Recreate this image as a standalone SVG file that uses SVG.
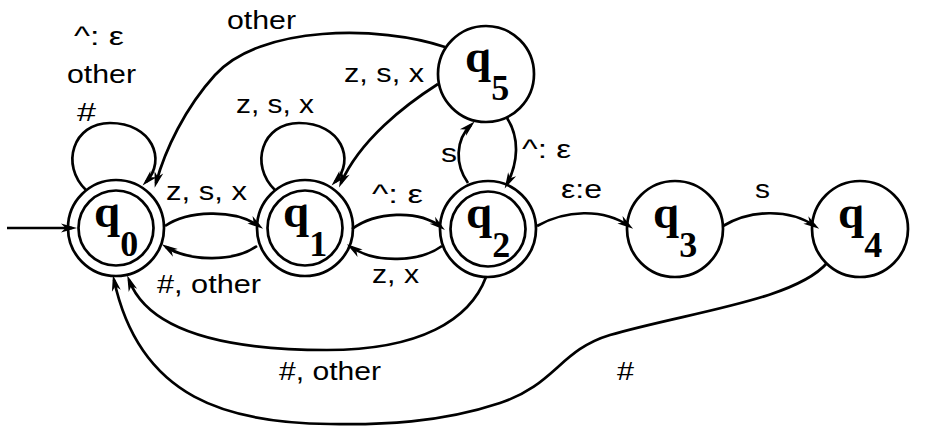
<svg xmlns="http://www.w3.org/2000/svg" width="934" height="436" viewBox="0 0 934 436">
<style>
.st{fill:none;stroke:#000;stroke-width:2.7}
.e{fill:none;stroke:#000;stroke-width:2.7;marker-end:url(#ah)}
.lb{font-family:"Liberation Sans",Arial,sans-serif;font-size:25px;fill:#000}
.q{font-family:"Liberation Serif","Times New Roman",serif;font-weight:bold;font-size:47px;fill:#000}
.sub{font-size:36px}
</style>
<defs>
<marker id="ah" markerUnits="userSpaceOnUse" markerWidth="17" markerHeight="10" refX="11" refY="5" orient="auto" overflow="visible">
<path d="M0,0.5 L16,5 L0,9.5 L4.5,5 Z" fill="#000"/>
</marker>
</defs>
<rect width="934" height="436" fill="#fff"/>
<g id="q0"><circle class="st" cx="116" cy="228" r="48"/><circle class="st" cx="116" cy="228" r="37.5"/><text class="q" x="94" y="227">q<tspan class="sub" y="256">0</tspan></text></g>
<g id="q1"><circle class="st" cx="305" cy="228" r="48"/><circle class="st" cx="305" cy="228" r="37.5"/><text class="q" x="283" y="227">q<tspan class="sub" y="256">1</tspan></text></g>
<g id="q2"><circle class="st" cx="488" cy="229" r="48"/><circle class="st" cx="488" cy="229" r="37.5"/><text class="q" x="466" y="228">q<tspan class="sub" y="257">2</tspan></text></g>
<g id="q3"><circle class="st" cx="675" cy="229" r="48"/><text class="q" x="653" y="228">q<tspan class="sub" y="257">3</tspan></text></g>
<g id="q4"><circle class="st" cx="860" cy="229" r="48"/><text class="q" x="838" y="228">q<tspan class="sub" y="257">4</tspan></text></g>
<g id="q5"><circle class="st" cx="486" cy="74" r="48"/><text class="q" x="465" y="72">q<tspan class="sub" y="100">5</tspan></text></g>
<g id="edges">
<path class="e" d="M7,228 L72,228"/>
<path class="e" d="M86,190 C60,165 73,123 110,123 C152,123 167,160 146,182"/>
<path class="e" d="M165,226 C187,211 233,208 259,226"/>
<path class="e" d="M257,246 C235,262 190,262 166,247"/>
<path class="e" d="M275,190 C249,165 262,123 299,123 C341,123 356,160 335,182"/>
<path class="e" d="M445,47 C380,25 260,25 215,75 C185,108 165,150 156,183"/>
<path class="e" d="M438,84 C405,105 360,140 341,183"/>
<path class="e" d="M352,229 C375,212 418,209 441,227"/>
<path class="e" d="M442,246 C420,262 376,264 351,247"/>
<path class="e" d="M468,183 C455,165 455,140 471,125"/>
<path class="e" d="M507,118 C520,138 518,163 507,184"/>
<path class="e" d="M537,226 C565,210 603,208 629,226"/>
<path class="e" d="M723,226 C750,210 788,208 815,226"/>
<path class="e" d="M486,277 C470,320 420,350 327,350 C235,350 150,335 129,280"/>
<path class="e" d="M827,263 C795,300 690,312 610,335 C560,350 555,385 500,403 C440,423 380,425 330,424 C230,423 140,400 114,280"/>
</g>
<g id="labels">
<text class="lb" x="74" y="45" textLength="50" lengthAdjust="spacingAndGlyphs">^: ε</text>
<text class="lb" x="67" y="83" textLength="69" lengthAdjust="spacingAndGlyphs">other</text>
<text class="lb" x="77" y="121" textLength="19" lengthAdjust="spacingAndGlyphs">#</text>
<text class="lb" x="227" y="29" textLength="69" lengthAdjust="spacingAndGlyphs">other</text>
<text class="lb" x="344" y="82" textLength="80" lengthAdjust="spacingAndGlyphs">z, s, x</text>
<text class="lb" x="236" y="113" textLength="78" lengthAdjust="spacingAndGlyphs">z, s, x</text>
<text class="lb" x="166" y="200" textLength="81" lengthAdjust="spacingAndGlyphs">z, s, x</text>
<text class="lb" x="157" y="293" textLength="104" lengthAdjust="spacingAndGlyphs">#, other</text>
<text class="lb" x="372" y="203" textLength="51" lengthAdjust="spacingAndGlyphs">^: ε</text>
<text class="lb" x="372" y="283" textLength="47" lengthAdjust="spacingAndGlyphs">z, x</text>
<text class="lb" x="441" y="162" textLength="16" lengthAdjust="spacingAndGlyphs">s</text>
<text class="lb" x="522" y="158" textLength="49" lengthAdjust="spacingAndGlyphs">^: ε</text>
<text class="lb" x="561" y="198" textLength="41" lengthAdjust="spacingAndGlyphs">ε:e</text>
<text class="lb" x="755" y="198" textLength="15" lengthAdjust="spacingAndGlyphs">s</text>
<text class="lb" x="279" y="380" textLength="102" lengthAdjust="spacingAndGlyphs">#, other</text>
<text class="lb" x="617" y="380" textLength="17" lengthAdjust="spacingAndGlyphs">#</text>
</g>
</svg>
